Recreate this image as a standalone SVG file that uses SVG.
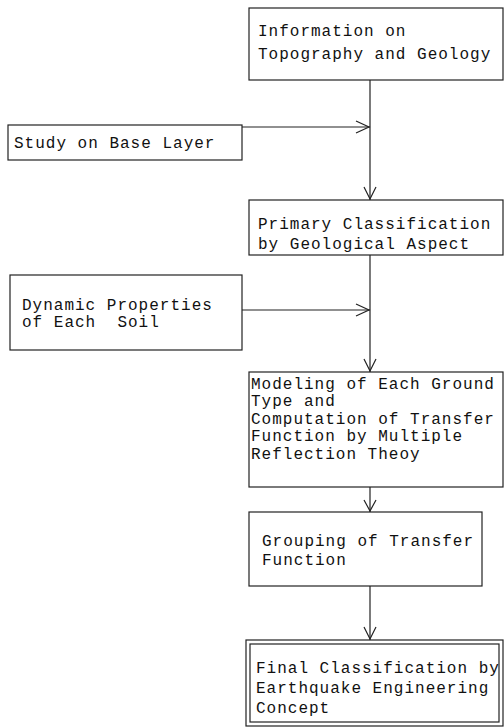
<svg xmlns="http://www.w3.org/2000/svg" width="504" height="727" viewBox="0 0 504 727">
  <style>
    .box { fill: #fff; stroke: #222; stroke-width: 1.2; }
    .lbl { font-family: "Liberation Mono", "DejaVu Sans Mono", monospace; font-size: 16px; letter-spacing: 1px; fill: #111; white-space: pre; }
    .wire { fill: none; stroke: #222; stroke-width: 1.2; }
    .head { fill: none; stroke: #222; stroke-width: 1.2; }
  </style>
  <rect width="504" height="727" fill="#fff"/>

  <g id="connectors">
    <line class="wire" x1="370" y1="80" x2="370" y2="200"/>
    <polyline class="head" points="364,187 370,199 376,187"/>
    <line class="wire" x1="242" y1="127" x2="370" y2="127"/>
    <polyline class="head" points="356,121 369,127 356,133"/>

    <line class="wire" x1="370" y1="255" x2="370" y2="372"/>
    <polyline class="head" points="364,359 370,371 376,359"/>
    <line class="wire" x1="242" y1="310" x2="370" y2="310"/>
    <polyline class="head" points="356,304 369,310 356,316"/>

    <line class="wire" x1="370" y1="487" x2="370" y2="512"/>
    <polyline class="head" points="364,500 370,511 376,500"/>

    <line class="wire" x1="370" y1="586" x2="370" y2="640"/>
    <polyline class="head" points="364,627 370,639 376,627"/>
  </g>

  <g id="topography">
    <rect class="box" x="249" y="8" width="254" height="72"/>
    <text class="lbl" x="258" y="36">Information on</text>
    <text class="lbl" x="258" y="59">Topography and Geology</text>
  </g>

  <g id="base-layer">
    <rect class="box" x="8" y="125" width="234" height="35"/>
    <text class="lbl" x="14" y="148">Study on Base Layer</text>
  </g>

  <g id="primary">
    <rect class="box" x="249" y="200" width="254" height="55"/>
    <text class="lbl" x="258" y="229">Primary Classification</text>
    <text class="lbl" x="258" y="249">by Geological Aspect</text>
  </g>

  <g id="soil">
    <rect class="box" x="10" y="275" width="232" height="75"/>
    <text class="lbl" x="22" y="310">Dynamic Properties</text>
    <text class="lbl" x="22" y="327">of Each  Soil</text>
  </g>

  <g id="modeling">
    <rect class="box" x="249" y="372" width="254" height="115"/>
    <text class="lbl" x="251" y="389">Modeling of Each Ground</text>
    <text class="lbl" x="251" y="406">Type and</text>
    <text class="lbl" x="251" y="424">Computation of Transfer</text>
    <text class="lbl" x="251" y="441">Function by Multiple</text>
    <text class="lbl" x="251" y="459">Reflection Theoy</text>
  </g>

  <g id="grouping">
    <rect class="box" x="249" y="512" width="233" height="74"/>
    <text class="lbl" x="262" y="546">Grouping of Transfer</text>
    <text class="lbl" x="262" y="565">Function</text>
  </g>

  <g id="final">
    <rect class="box" x="246" y="640" width="257" height="86"/>
    <rect class="box" x="250" y="644" width="249" height="78"/>
    <text class="lbl" x="256" y="673">Final Classification by</text>
    <text class="lbl" x="256" y="693">Earthquake Engineering</text>
    <text class="lbl" x="256" y="713">Concept</text>
  </g>
</svg>
